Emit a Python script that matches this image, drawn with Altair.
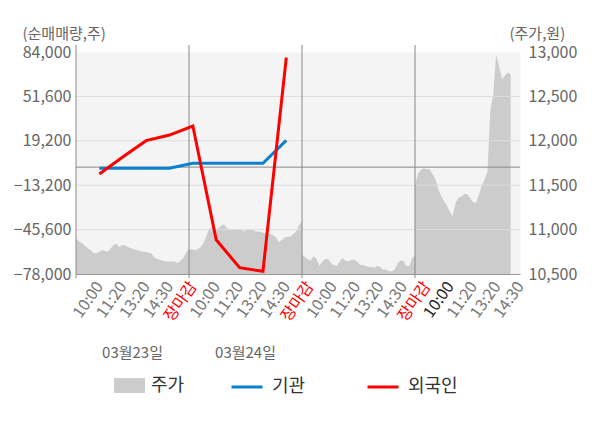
import json
import altair as alt
import pandas as pd

# ---------------- data ----------------
X_TICK_LABELS = ["10:00", "11:20", "13:20", "14:30", "장마감",
                 "10:00", "11:20", "13:20", "14:30", "장마감",
                 "10:00", "11:20", "13:20", "14:30", "장마감",
                 "10:00", "11:20", "13:20", "14:30"]
DATE_LABELS = ["03월23일", "03월24일"]

FLOW_SLOTS = [1, 2, 3, 4, 5, 6, 7, 8, 9]
INSTITUTION = [-800, -800, -800, -800, 2800, 2800, 2800, 2800, 19500]
FOREIGN = [-5000, 7400, 19300, 23400, 30000, -53000, -73400, -76000, 80000]

PRICE_STEP_MIN = 10
PRICE_DAY1 = [10900, 10870, 10850, 10820, 10790, 10770, 10740, 10730, 10750, 10770,
              10760, 10750, 10790, 10830, 10840, 10800, 10830, 10820, 10800, 10790,
              10780, 10770, 10760, 10750, 10750, 10740, 10730, 10690, 10670, 10660,
              10650, 10640, 10640, 10640, 10640, 10620, 10650, 10680, 10740, 10780]
PRICE_DAY2 = [10780, 10780, 10770, 10780, 10800, 10850, 10930, 11010, 11020, 11000,
              11010, 11040, 11060, 11020, 11000, 11000, 11000, 11000, 11000, 10980,
              11000, 11000, 11000, 10980, 10980, 10970, 10960, 10960, 10950, 10940,
              10910, 10860, 10880, 10910, 10920, 10920, 10950, 10980, 11050, 11100]
PRICE_DAY3 = [10720, 10690, 10670, 10650, 10700, 10670, 10590, 10640, 10670, 10670,
              10620, 10600, 10590, 10640, 10680, 10650, 10640, 10660, 10660, 10640,
              10600, 10600, 10590, 10580, 10580, 10570, 10590, 10580, 10550, 10550,
              10530, 10530, 10550, 10620, 10650, 10650, 10590, 10590, 10680, 10710]
PRICE_DAY4 = [11500, 11630, 11670, 11690, 11680, 11680, 11630, 11570, 11460, 11380,
              11320, 11270, 11200, 11150, 11300, 11360, 11370, 11400, 11400, 11360,
              11310, 11300, 11390, 11490, 11560, 11650, 12350, 12520, 12970, 12840,
              12700, 12730, 12770, 12740]

LEFT_TICKS = [-78000, -45600, -13200, 19200, 51600, 84000]
RIGHT_TICKS = [10500, 11000, 11500, 12000, 12500, 13000]

# ---------------- layout constants ----------------
SESSION_MIN = 390
DAY_SPAN = 4.836     # one trading day measured in x-label steps
X_MAX = 19

price_rows = []
for d, day in enumerate([PRICE_DAY1, PRICE_DAY2, PRICE_DAY3, PRICE_DAY4]):
    for i, p in enumerate(day):
        price_rows.append({"x": d * DAY_SPAN + i * PRICE_STEP_MIN / SESSION_MIN * DAY_SPAN,
                           "price": p, "series": "주가"})
price_df = pd.DataFrame(price_rows)

flow_rows = []
for s, v in zip(FLOW_SLOTS, INSTITUTION):
    flow_rows.append({"x": s, "value": v, "series": "기관"})
for s, v in zip(FLOW_SLOTS, FOREIGN):
    flow_rows.append({"x": s, "value": v, "series": "외국인"})
flow_df = pd.DataFrame(flow_rows)

bound_df = pd.DataFrame({"x": [d * DAY_SPAN for d in range(4)]})
hgrid_df = pd.DataFrame({"value": LEFT_TICKS[1:-1]})
zero_df = pd.DataFrame({"value": [0]})
date_df = pd.DataFrame({"x": [(d + 0.5) * DAY_SPAN for d in range(len(DATE_LABELS))],
                        "label": DATE_LABELS})

FONT = "Noto Sans CJK KR"
xscale = alt.Scale(domain=[0, X_MAX], nice=False, zero=False)
left_scale = alt.Scale(domain=[LEFT_TICKS[0], LEFT_TICKS[-1]], nice=False, zero=False)
right_scale = alt.Scale(domain=[RIGHT_TICKS[0], RIGHT_TICKS[-1]], nice=False, zero=False)

x_axis = alt.Axis(
    values=list(range(1, X_MAX + 1)),
    labelExpr=json.dumps(X_TICK_LABELS, ensure_ascii=False) + "[datum.value - 1]",
    labelAngle=-55, labelAlign="right", labelBaseline="middle",
    labelFontSize=16, labelPadding=9,
    labelColor={"condition": [
        {"test": "datum.value == 5 || datum.value == 10 || datum.value == 15", "value": "#ff0000"},
        {"test": "datum.value == 16", "value": "#222222"}],
        "value": "#777777"},
    ticks=False, grid=False, domain=True, domainColor="#999999",
    labelFlush=False, labelOverlap=False, zindex=1, title=None)

right_axis = alt.Axis(
    orient="right", values=RIGHT_TICKS, format=",.0f", grid=False, ticks=False, domain=False,
    labelPadding=8, labelFontSize=16, labelColor="#666666",
    title="(주가,원)", titleAngle=0, titleX=-11, titleY=-14, titleAlign="left",
    titleBaseline="alphabetic", titleFontSize=15, titleColor="#666666", titleFontWeight="normal")

left_axis = alt.Axis(
    orient="left", values=LEFT_TICKS, format=",.0f", grid=False, ticks=False, domain=False,
    labelPadding=5, labelFontSize=16, labelColor="#666666",
    title="(순매매량,주)", titleAngle=0, titleX=-54, titleY=-14, titleAlign="left",
    titleBaseline="alphabetic", titleFontSize=15, titleColor="#666666", titleFontWeight="normal")

X = alt.X("x:Q", scale=xscale, axis=x_axis)
YL = alt.Y("value:Q", scale=left_scale, axis=left_axis)

area = alt.Chart(price_df).mark_area(clip=True).encode(
    x=X,
    y=alt.Y("price:Q", scale=right_scale, axis=right_axis),
    y2=alt.datum(RIGHT_TICKS[0]),
    fill=alt.Fill("series:N", scale=alt.Scale(domain=["주가"], range=["#cccccc"]),
                  legend=alt.Legend(title=None, orient="none", legendX=38, legendY=318,
                                    direction="horizontal",
                                    symbolType="M-1,-0.48H1V0.48H-1Z", symbolSize=961,
                                    symbolStrokeWidth=0, symbolOpacity=1,
                                    labelFontSize=18, labelColor="#333333", labelOffset=6,
                                    labelFont=FONT, padding=0)),
)

hgrid = alt.Chart(hgrid_df).mark_rule(color="#dddddd", strokeWidth=1).encode(y=YL)
zero = alt.Chart(zero_df).mark_rule(color="#888888", strokeWidth=1).encode(y=YL)
vrules = alt.Chart(bound_df).mark_rule(color="#888888", strokeWidth=1).encode(
    x=X, y=alt.value(-7), y2=alt.value(226))

lines = alt.Chart(flow_df).mark_line(strokeWidth=3).encode(
    x=X, y=YL,
    stroke=alt.Stroke("series:N",
                      scale=alt.Scale(domain=["기관", "외국인"], range=["#0a80d0", "#ff0000"]),
                      legend=alt.Legend(title=None, orient="none", legendX=154, legendY=318,
                                        direction="horizontal", symbolType="stroke",
                                        symbolSize=961, symbolStrokeWidth=3,
                                        labelFontSize=18, labelColor="#333333", labelOffset=8,
                                        labelFont=FONT, columnPadding=55, padding=0)),
)

dates = alt.Chart(date_df).mark_text(fontSize=15, color="#666666", baseline="middle",
                                     font=FONT).encode(
    x=X, y=alt.value(301), text="label:N")

inner = alt.layer(hgrid, zero, vrules, lines, dates)
chart = alt.layer(area, inner).resolve_scale(y="independent").properties(
    width=444, height=222, autosize="none",
    padding={"left": 68, "top": 44, "right": 72, "bottom": 146},
).configure(font=FONT).configure_view(fill="#f4f4f4", stroke="transparent")

chart.save("out.html", embed_options={"renderer": "svg", "actions": False})
